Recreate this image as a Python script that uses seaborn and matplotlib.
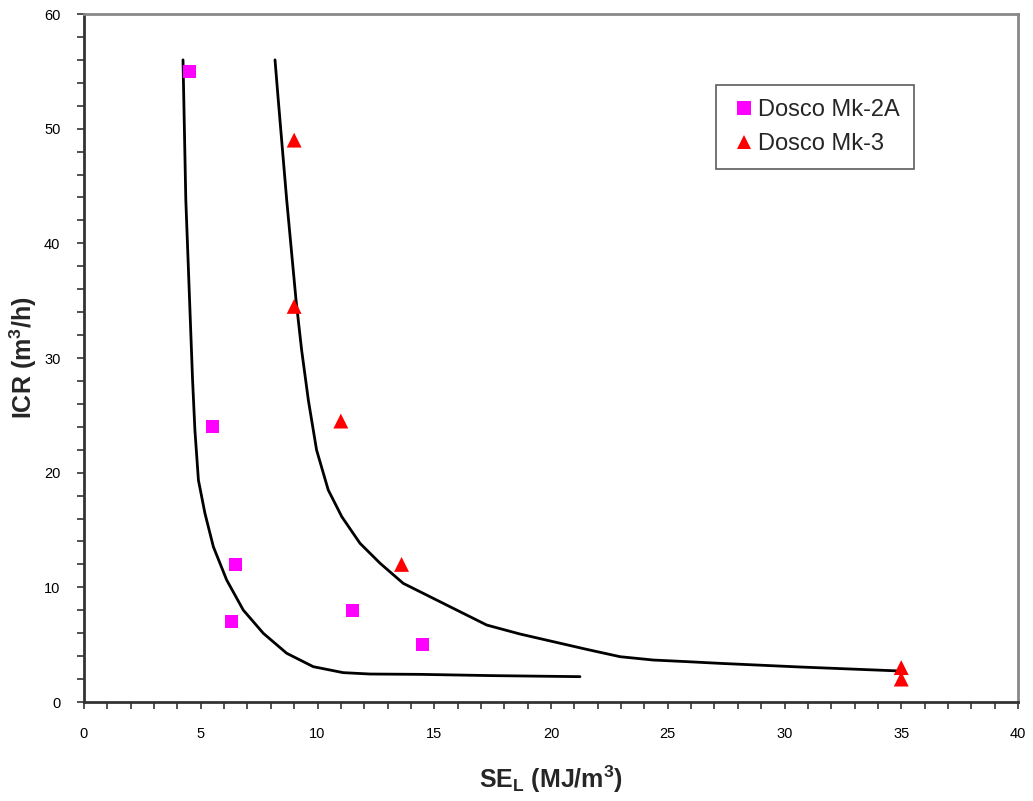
import matplotlib
matplotlib.use("Agg")
import matplotlib.pyplot as plt
from matplotlib.ticker import MultipleLocator
import seaborn as sns
import pandas as pd

# Measured points
mk2a_se = [4.5, 5.5, 6.5, 6.3, 11.5, 14.5]
mk2a_icr = [55, 24, 12, 7, 8, 5]
mk3_se = [9.0, 9.0, 11.0, 13.6, 35.0, 35.0]
mk3_icr = [49, 34.5, 24.5, 12, 3, 2]

# Fitted trend curves
fit2a_se = [4.24, 4.36, 4.65, 4.75, 4.90, 5.18, 5.54, 6.11, 6.82, 7.68, 8.68,
            9.82, 11.1, 12.25, 14.39, 17.5, 21.24]
fit2a_icr = [56.0, 43.8, 28.07, 23.7, 19.35, 16.45, 13.54, 10.64, 8.02, 5.99, 4.25,
             3.08, 2.56, 2.44, 2.41, 2.3, 2.21]
fit3_se = [8.18, 8.32, 8.68, 9.08, 9.32, 9.61, 9.96, 10.46, 11.04, 11.82, 12.68,
           13.67, 14.82, 15.96, 17.25, 18.67, 20.1, 21.53, 22.96, 24.38, 25.81,
           27.24, 30.7, 35.0]
fit3_icr = [56.0, 52.5, 43.8, 35.06, 30.7, 26.3, 21.98, 18.49, 16.16, 13.84, 12.1,
            10.35, 9.18, 8.02, 6.71, 5.93, 5.26, 4.59, 3.95, 3.66, 3.52,
            3.37, 3.05, 2.7]

labels = ["Dosco Mk-2A", "Dosco Mk-3"]

sns.set_theme(style="white")
plt.rcParams["font.family"] = ["Liberation Sans", "DejaVu Sans"]
plt.rcParams["mathtext.fontset"] = "custom"
plt.rcParams["mathtext.rm"] = "Liberation Sans"
plt.rcParams["mathtext.bf"] = "Liberation Sans:bold"

points = pd.DataFrame({
    "SE": mk2a_se + mk3_se,
    "ICR": mk2a_icr + mk3_icr,
    "Machine": [labels[0]] * len(mk2a_se) + [labels[1]] * len(mk3_se),
})
fits = pd.DataFrame({
    "SE": fit2a_se + fit3_se,
    "ICR": fit2a_icr + fit3_icr,
    "Fit": ["a"] * len(fit2a_se) + ["b"] * len(fit3_se),
})

fig = plt.figure(figsize=(10.33, 8.01), dpi=100)
ax = fig.add_axes([84 / 1033, 1 - 702 / 801, (1018 - 84) / 1033, (702 - 14) / 801])

sns.lineplot(data=fits, x="SE", y="ICR", units="Fit", estimator=None, sort=False,
             color="black", linewidth=2.0, ax=ax, legend=False)
sns.scatterplot(data=points, x="SE", y="ICR", hue="Machine", style="Machine", size="Machine",
                palette={labels[0]: "#FF00FF", labels[1]: "#FF0000"},
                markers={labels[0]: "s", labels[1]: "^"},
                sizes={labels[0]: 88, labels[1]: 115},
                linewidth=0, ax=ax, zorder=3)

ax.set_xlim(0, 40)
ax.set_ylim(0, 60)
ax.xaxis.set_major_locator(MultipleLocator(5))
ax.xaxis.set_minor_locator(MultipleLocator(1))
ax.yaxis.set_major_locator(MultipleLocator(10))
ax.yaxis.set_minor_locator(MultipleLocator(2))
ax.tick_params(which="both", direction="out", length=5, width=1.2, color="#333333",
               bottom=True, left=True, top=False, right=False)
ax.tick_params(which="major", labelsize=10.5, labelcolor="black")
ax.tick_params(axis="x", which="major", pad=13)
ax.tick_params(axis="y", which="major", pad=12)

for side in ("left", "bottom"):
    ax.spines[side].set_color("#333333")
    ax.spines[side].set_linewidth(2)
for side in ("top", "right"):
    ax.spines[side].set_color("#888888")
    ax.spines[side].set_linewidth(2)

ax.set_xlabel(r"SE$_{\mathbf{L}}$ (MJ/m$^{\mathbf{3}}$)", fontsize=18, fontweight="bold", labelpad=16)
ax.set_ylabel(r"ICR (m$^{\mathbf{3}}$/h)", fontsize=18, fontweight="bold", labelpad=3.5)

handles, _ = ax.get_legend_handles_labels()
leg = ax.legend(handles=handles, labels=labels, loc="upper left",
                bbox_to_anchor=(716 / 1033, 1 - 85 / 801), bbox_transform=fig.transFigure,
                fontsize=17, frameon=True, fancybox=False, edgecolor="#333333",
                handletextpad=0.0, handlelength=1.2, borderpad=0.6, labelspacing=0.5,
                markerscale=1.0, borderaxespad=0)
leg.get_frame().set_linewidth(1.2)

fig.savefig("out.png", dpi=100)
